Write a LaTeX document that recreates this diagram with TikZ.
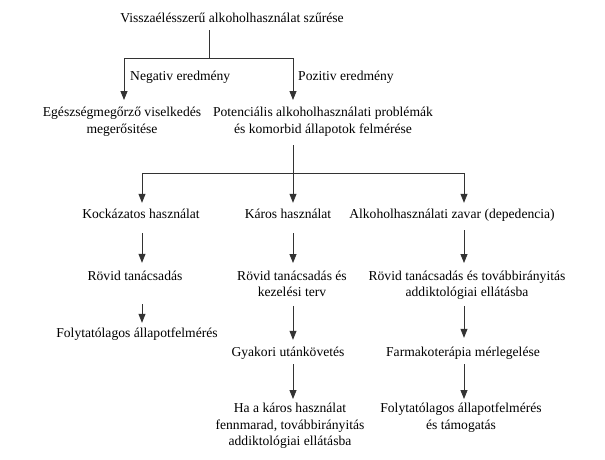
\documentclass[tikz,border=0pt]{standalone}
\usepackage{fontspec}
\setmainfont{Liberation Serif}
\usetikzlibrary{arrows.meta}
\begin{document}
\begin{tikzpicture}[x=1pt,y=-1pt,
  txt/.style={inner sep=0pt,font=\fontsize{13.6}{16.5}\selectfont},
  one/.style={txt,text height=9.5pt,text depth=3.5pt,anchor=base},
  multi/.style={txt,align=center,anchor=north},
  ln/.style={draw=black!80,line width=0.8pt},
  arr/.style={ln,-{Triangle[length=9pt,width=7pt]},line join=miter}]
\useasboundingbox (0,0) rectangle (605,459);
% columns
\coordinate (cA) at (124,0);
\coordinate (cB) at (293,0);
\coordinate (c1) at (142,0);
\coordinate (c2) at (293,0);
\coordinate (c3) at (464,0);
\coordinate (j1) at (209,58);
\coordinate (j1a) at (124,58);
\coordinate (j1b) at (293,58);
\coordinate (j2) at (293,173);
\coordinate (j2a) at (142,173);
\coordinate (j2c) at (464,173);
% nodes
\node[one] (title) at (232,22.5) {Visszaélésszerű alkoholhasználat szűrése};
\node[one,anchor=base west] (neg) at (130,80.5) {Negativ eredmény};
\node[one,anchor=base west] (pos) at (298,80.5) {Pozitiv eredmény};
\node[multi] (egesz) at (122,107) {Egészségmegőrző viselkedés\\megerősitése};
\node[multi] (pot) at (323,107) {Potenciális alkoholhasználati problémák\\és komorbid állapotok felmérése};
\node[one] (kock) at (141,218.5) {Kockázatos használat};
\node[one] (karos) at (288,218.5) {Káros használat};
\node[one] (zavar) at (452,218.5) {Alkoholhasználati zavar (depedencia)};
\node[one] (rov1) at (135,280) {Rövid tanácsadás};
\node[multi] (rov2) at (292,270.5) {Rövid tanácsadás és\\kezelési terv};
\node[multi] (rov3) at (467,270.5) {Rövid tanácsadás és továbbirányitás\\addiktológiai ellátásba};
\node[one] (foly1) at (137,337) {Folytatólagos állapotfelmérés};
\node[one] (gyak) at (288,356.5) {Gyakori utánkövetés};
\node[one] (farm) at (463,356) {Farmakoterápia mérlegelése};
\node[multi] (ha) at (290,403) {Ha a káros használat\\fennmarad, továbbirányitás\\addiktológiai ellátásba};
\node[multi] (foly3) at (461,403) {Folytatólagos állapotfelmérés\\és támogatás};
% connectors
\draw[ln,shorten <=4pt] (title.south -| j1) -- (j1);
\draw[ln] (j1a) -- (j1b);
\draw[arr,shorten >=7pt] (j1a) -- (egesz.north -| cA);
\draw[arr,shorten >=7pt] (j1b) -- (pot.north -| cB);
\draw[ln,shorten <=9pt] (pot.south -| j2) -- (j2);
\draw[ln] (j2a) -- (j2c);
\draw[arr,shorten >=6pt] (j2a) -- (kock.north -| c1);
\draw[arr,shorten >=6pt] (j2) -- (karos.north -| c2);
\draw[arr,shorten >=6pt] (j2c) -- (zavar.north -| c3);
\draw[arr,shorten <=11pt,shorten >=7.5pt] (kock.south -| c1) -- (rov1.north -| c1);
\draw[arr,shorten <=11pt,shorten >=7.5pt] (karos.south -| c2) -- (rov2.north -| c2);
\draw[arr,shorten <=8pt,shorten >=7.5pt] (zavar.south -| c3) -- (rov3.north -| c3);
\draw[arr,shorten <=20.5pt,shorten >=4.5pt] (rov1.south -| c1) -- (foly1.north -| c1);
\draw[arr,shorten <=9pt,shorten >=7pt] (rov2.south -| c2) -- (gyak.north -| c2);
\draw[arr,shorten <=6pt,shorten >=8.5pt] (rov3.south -| c3) -- (farm.north -| c3);
\draw[arr,shorten <=4pt,shorten >=4pt] (gyak.south -| c2) -- (ha.north -| c2);
\draw[arr,shorten <=4.5pt,shorten >=4pt] (farm.south -| c3) -- (foly3.north -| c3);
\end{tikzpicture}
\end{document}
